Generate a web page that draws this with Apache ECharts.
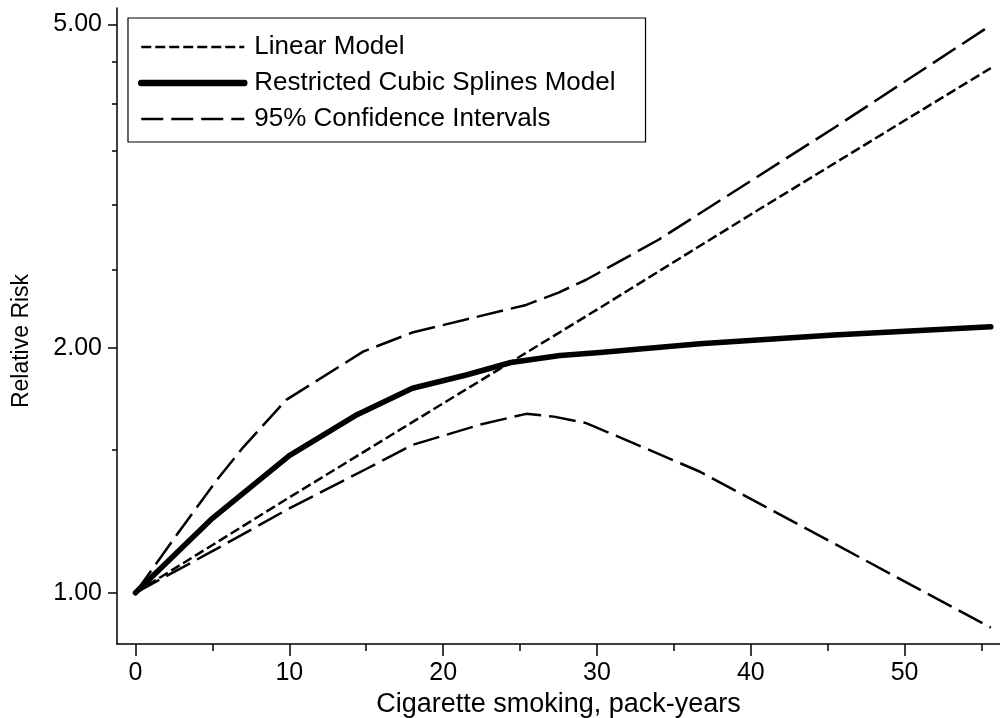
<!DOCTYPE html>
<html><head><meta charset="utf-8">
<script src="https://cdn.jsdelivr.net/npm/echarts@6/dist/echarts.min.js"></script>
<style>html,body{margin:0;padding:0;background:#fff}#c{width:1000px;height:718px}</style>
</head><body><div id="c"></div>
<script>
// ---- data ----
const seriesNames = ['Linear Model', 'Restricted Cubic Splines Model', '95% Confidence Intervals'];
const linearX  = [0, 10, 20, 30, 40, 50, 55.6];
const linearRR = [1.00, 1.31, 1.71, 2.23, 2.92, 3.81, 4.42];
const splineX  = [0, 5, 10, 14.4, 18, 21.5, 24.4, 27.6, 30.2, 36.7, 45.4, 55.6];
const splineRR = [1.00, 1.235, 1.475, 1.656, 1.785, 1.853, 1.92, 1.958, 1.975, 2.024, 2.075, 2.124];
const upperX   = [0, 2.9, 5.3, 7, 9.8, 14.8, 18, 25.4, 27.5, 29.3, 34, 36.7, 45.4, 55.6];
const upperRR  = [1.00, 1.194, 1.377, 1.51, 1.727, 1.98, 2.09, 2.26, 2.34, 2.427, 2.718, 2.93, 3.73, 4.99];
const lowerX   = [0, 5, 10, 15, 18, 22.4, 25.4, 27.2, 29.3, 32.4, 36.7, 45.4, 55.6];
const lowerRR  = [1.00, 1.125, 1.27, 1.42, 1.52, 1.61, 1.66, 1.647, 1.617, 1.527, 1.409, 1.15, 0.906];
const xMajorTicks = [0, 10, 20, 30, 40, 50];
const xMinorTicks = [5, 15, 25, 35, 45, 55];
const yMajorTicks = [1, 2, 5];
const yMinorTicks = [1.5, 2.5, 3, 3.5, 4, 4.5];

const pairs = (xs, ys) => xs.map((x, i) => [x, ys[i]]);
const FONT = '"Liberation Sans", Arial, sans-serif';
const XMIN = -1.2, XMAX = 56.2, YMIN = 0.865, YMAX = 5.24;
const axisLineStyle = { color: '#000', width: 1.5 };
const shortDash = { color: '#000', width: 2.5, type: [10, 4] };
const longDash  = { color: '#000', width: 2.5, type: [27, 8] };
const thick     = { color: '#000', width: 5.5, cap: 'round', join: 'round' };

const chart = echarts.init(document.getElementById('c'), null, { renderer: 'canvas' });
chart.setOption({
  animation: false,
  backgroundColor: '#fff',
  textStyle: { fontFamily: FONT, color: '#000' },
  grid: { left: 117, right: 0, top: 8, bottom: 74, containLabel: false, outerBoundsMode: 'none' },
  legend: {
    orient: 'vertical', left: 128, top: 18,
    padding: [16, 30, 10, 10], itemWidth: 103, itemHeight: 14, itemGap: 10,
    borderColor: '#000', borderWidth: 1.2, backgroundColor: '#fff',
    textStyle: { fontSize: 26, color: '#000', fontFamily: FONT, padding: [0, 0, 0, 5] },
    data: [
      { name: seriesNames[0], lineStyle: { width: 2.5, type: [10, 4], color: '#000' }, itemStyle: { opacity: 0 } },
      { name: seriesNames[1], lineStyle: { width: 6.5, type: 'solid', color: '#000', cap: 'round' }, itemStyle: { opacity: 0 } },
      { name: seriesNames[2], lineStyle: { width: 2.5, type: [22, 8], color: '#000' }, itemStyle: { opacity: 0 } }
    ]
  },
  xAxis: [{
    type: 'value', min: XMIN, max: XMAX,
    axisLine: { show: true, onZero: false, lineStyle: axisLineStyle },
    axisTick: { show: true, length: 12, lineStyle: axisLineStyle, customValues: xMajorTicks },
    axisLabel: { customValues: xMajorTicks, fontSize: 25, color: '#000', fontFamily: FONT, margin: 17 },
    splitLine: { show: false },
    name: 'Cigarette smoking, pack-years', nameLocation: 'middle', nameGap: 44,
    nameTextStyle: { fontSize: 27, color: '#000', fontFamily: FONT }
  }, {
    type: 'value', min: XMIN, max: XMAX, position: 'bottom',
    axisLine: { show: false, onZero: false },
    axisTick: { show: true, length: 7, lineStyle: axisLineStyle, customValues: xMinorTicks },
    axisLabel: { show: false },
    splitLine: { show: false }
  }],
  yAxis: [{
    type: 'log', logBase: 10, min: YMIN, max: YMAX,
    axisLine: { show: true, onZero: false, lineStyle: axisLineStyle },
    axisTick: { show: true, length: 9, lineStyle: axisLineStyle, customValues: yMajorTicks },
    axisLabel: { customValues: yMajorTicks, formatter: v => Number(v).toFixed(2), fontSize: 25, color: '#000', fontFamily: FONT, margin: 15 },
    splitLine: { show: false },
    name: 'Relative Risk', nameLocation: 'middle', nameGap: 84,
    nameTextStyle: { fontSize: 23, color: '#000', fontFamily: FONT, padding: [0, 30, 0, 0] }
  }, {
    type: 'log', logBase: 10, min: YMIN, max: YMAX, position: 'left',
    axisLine: { show: false, onZero: false },
    axisTick: { show: true, length: 5, lineStyle: axisLineStyle, customValues: yMinorTicks },
    axisLabel: { show: false },
    splitLine: { show: false }
  }],
  series: [
    { name: seriesNames[0], type: 'line', data: pairs(linearX, linearRR), symbol: 'none', showSymbol: false,
      lineStyle: shortDash, itemStyle: { color: '#000' }, z: 3 },
    { name: seriesNames[1], type: 'line', data: pairs(splineX, splineRR), symbol: 'none', showSymbol: false,
      lineStyle: thick, itemStyle: { color: '#000' }, z: 4 },
    { name: seriesNames[2], type: 'line', data: pairs(upperX, upperRR), symbol: 'none', showSymbol: false,
      lineStyle: longDash, itemStyle: { color: '#000' }, z: 2 },
    { name: seriesNames[2], type: 'line', data: pairs(lowerX, lowerRR), symbol: 'none', showSymbol: false,
      lineStyle: longDash, itemStyle: { color: '#000' }, z: 2 }
  ]
});
</script></body></html>
